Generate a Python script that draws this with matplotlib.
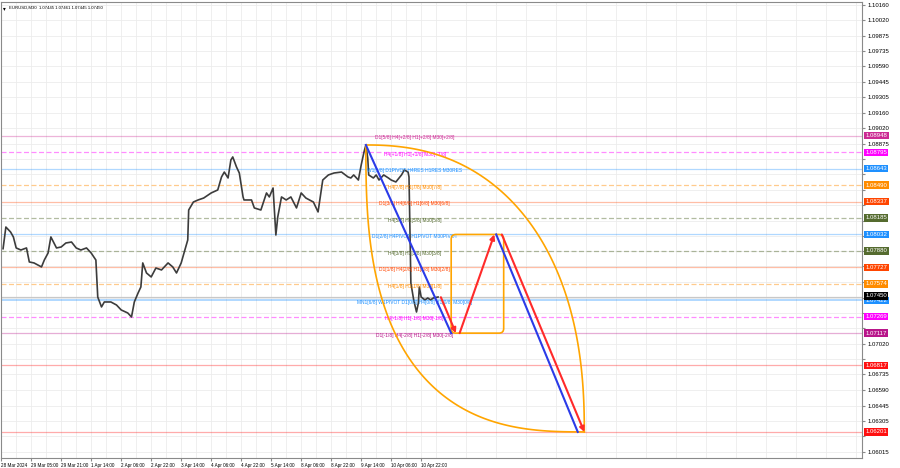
import matplotlib
matplotlib.use("Agg")
import matplotlib.pyplot as plt
import numpy as np
from matplotlib import transforms
from matplotlib.patches import FancyBboxPatch

plt.rcParams['font.family'] = ['Liberation Sans', 'DejaVu Sans']

chart_title = "EURUSD,M30  1.07445 1.07461 1.07445 1.07450"

# M30 bar index (weekend gaps removed) and close price
bar_idx = [0, 3, 8, 11, 14, 19, 25, 28, 33, 41, 44, 48, 51, 57, 62, 67, 73, 78, 83, 89,
           94, 99, 101, 105, 108, 115, 121, 126, 133, 137, 140, 144, 147, 149, 153, 158,
           163, 169, 176, 181, 185, 190, 193, 197, 198, 203, 208, 214, 222, 229, 233, 236,
           240, 243, 245, 249, 252, 256, 257, 265, 268, 275, 281, 284, 288, 291, 293, 297,
           302, 307, 313, 318, 323, 331, 336, 341, 347, 353, 361, 368, 371, 374, 379, 382,
           385, 387, 389, 390, 395, 398, 401, 406, 411, 414, 419, 425, 428, 432, 433, 434,
           435, 438, 441, 443, 444, 446, 450, 453, 456, 459, 464]
close = [1.07900, 1.08101, 1.08055, 1.08009, 1.07907, 1.07888, 1.07907, 1.07777, 1.07768,
         1.07731, 1.07795, 1.07860, 1.08009, 1.07907, 1.07916, 1.07953, 1.07962, 1.07907,
         1.07888, 1.07907, 1.07860, 1.07795, 1.07452, 1.07360, 1.07406, 1.07406, 1.07378,
         1.07332, 1.07304, 1.07267, 1.07406, 1.07489, 1.07545, 1.07768, 1.07675, 1.07638,
         1.07721, 1.07703, 1.07768, 1.07731, 1.07675, 1.07768, 1.07860, 1.07981, 1.08259,
         1.08333, 1.08352, 1.08370, 1.08417, 1.08445, 1.08565, 1.08611, 1.08556, 1.08723,
         1.08751, 1.08658, 1.08602, 1.08380, 1.08352, 1.08352, 1.08278, 1.08259, 1.08417,
         1.08380, 1.08463, 1.08027, 1.08194, 1.08380, 1.08352, 1.08380, 1.08278, 1.08417,
         1.08370, 1.08333, 1.08241, 1.08537, 1.08584, 1.08602, 1.08611, 1.08565, 1.08556,
         1.08584, 1.08537, 1.08676, 1.08797, 1.08862, 1.08741, 1.08584, 1.08556, 1.08584,
         1.08537, 1.08584, 1.08556, 1.08537, 1.08519, 1.08584, 1.08630, 1.08611, 1.08565,
         1.08074, 1.07582, 1.07425, 1.07313, 1.07397, 1.07545, 1.07452, 1.07425, 1.07443,
         1.07425, 1.07443, 1.07452]

time_tick_bars = [-2, 30, 62, 94, 126, 158, 190, 222, 254, 286, 318, 350, 382, 414, 446]
time_labels = ["28 Mar 2024", "29 Mar 05:00", "29 Mar 21:00", "1 Apr 14:00", "2 Apr 06:00",
               "2 Apr 22:00", "3 Apr 14:00", "4 Apr 06:00", "4 Apr 22:00", "5 Apr 14:00",
               "8 Apr 06:00", "8 Apr 22:00", "9 Apr 14:00", "10 Apr 06:00", "10 Apr 22:00"]

price_ticks = [1.10160, 1.10020, 1.09875, 1.09735, 1.09590, 1.09445, 1.09305, 1.09160,
               1.09020, 1.08875, 1.08735, 1.08590, 1.08445, 1.08305, 1.08160, 1.08020,
               1.07875, 1.07735, 1.07590, 1.07445, 1.07305, 1.07160, 1.07020, 1.06875,
               1.06735, 1.06590, 1.06445, 1.06305, 1.06160, 1.06015]

# murrey levels: price, caption, colour, dashed?
level_prices = [1.08948, 1.08795, 1.08643, 1.08490, 1.08337, 1.08185, 1.08032, 1.07880,
                1.07727, 1.07574, 1.07422, 1.07269, 1.07117, 1.06817, 1.06201]
level_texts = ["D1[5/8] H4[+2/8] H1[+2/8] M30[+2/8]",
               "H4[+1/8] H1[+1/8] M30[+1/8]",
               "W1[5/8] D1PIVOT H4RES H1RES M30RES",
               "H4[7/8] H1[7/8] M30[7/8]",
               "D1[3/8] H4[6/8] H1[6/8] M30[6/8]",
               "H4[5/8] H1[5/8] M30[5/8]",
               "D1[2/8] H4PIVOT H1PIVOT M30PIVOT",
               "H4[3/8] H1[3/8] M30[3/8]",
               "D1[1/8] H4[2/8] H1[2/8] M30[2/8]",
               "H4[1/8] H1[1/8] M30[1/8]",
               "MN1[6/8] W1PIVOT D1[0/8] H4[0/8] H1[0/8] M30[0/8]",
               "H4[-1/8] H1[-1/8] M30[-1/8]",
               "D1[-1/8] H4[-2/8] H1[-2/8] M30[-2/8]",
               "", ""]
level_colors = ["#CC2A93", "#FF00FF", "#1E90FF", "#FF8C00", "#FF4500", "#556B2F",
                "#1E90FF", "#556B2F", "#FF4500", "#FF8C00", "#1E90FF", "#FF00FF",
                "#B8168A", "#FF1010", "#FF1010"]
level_dashed = [False, True, False, True, False, True, False, True, False, True,
                False, True, False, False, False]

bid_price = 1.07450

# projection drawn on the chart (bar, price)
swing_top = (387, 1.08862)
swing_target = (620, 1.06201)
blue_legs = [[(387, 1.08862), (478, 1.07117)], [(526, 1.08032), (613, 1.06201)]]
red_legs = [[(467, 1.07450), (483, 1.07117)], [(487, 1.07117), (524, 1.08032)],
            [(532, 1.08032), (620, 1.06201)]]
box_bars = (478, 534)
box_prices = (1.07117, 1.08032)

label_center_bar = 439

fig = plt.figure(figsize=(9, 4.68), dpi=100)
ax = fig.add_axes([1 / 900, 10 / 468, 861 / 900, 456 / 468])
ax.set_xlim(-2.2, 916.2)
ax.set_ylim(1.05959, 1.10188)

for s in ax.spines.values():
    s.set_color("#8a8a8a")
    s.set_linewidth(0.8)

ax.set_xticks(time_tick_bars)
ax.set_xticklabels(time_labels, ha="left", fontsize=3.3)
ax.set_xticks(range(14, 917, 32), minor=True)
ax.tick_params(axis="x", which="major", length=2, pad=1.5, color="#8a8a8a")
ax.tick_params(axis="x", which="minor", length=0)

# price scale labels hidden under the coloured level tags, like the terminal does
shown_ticks = [p for p in price_ticks
               if min(abs(p - q) for q in level_prices + [bid_price]) > 0.00061]
ax.yaxis.tick_right()
ax.set_yticks(price_ticks)
ax.set_yticklabels([f"{p:.5f}" if p in shown_ticks else "" for p in price_ticks],
                   fontsize=4.3)
ax.tick_params(axis="y", length=2, pad=2, color="#8a8a8a")
ax.grid(axis="y", which="major", color="#ececec", lw=0.6)
ax.grid(axis="x", which="both", color="#ececec", lw=0.6)
ax.set_axisbelow(True)

# levels
blend = transforms.blended_transform_factory(ax.transAxes, ax.transData)
for p, txt, c, dashed in zip(level_prices, level_texts, level_colors, level_dashed):
    lw = 1.4 if p == 1.07422 else 0.9
    ax.axhline(p, color=c, lw=lw, alpha=0.35 if not dashed else 0.45,
               ls=(0, (4, 2)) if dashed else "-", zorder=1)
    if txt:
        ax.annotate(txt, (label_center_bar, p), xytext=(0, -1.6), textcoords="offset points",
                    ha="center", va="center", fontsize=3.5, color=c, zorder=4)
    ax.text(1.004, p, f"{p:.5f}", transform=blend, ha="left", va="center", fontsize=4.3,
            color="white", clip_on=False, zorder=10,
            bbox=dict(boxstyle="square,pad=0.2", fc=c, ec="none"))

ax.axhline(bid_price, color="#c8c8c8", lw=0.9, zorder=1)
ax.text(1.004, bid_price + 0.00012, f"{bid_price:.5f}", transform=blend, ha="left",
        va="center", fontsize=4.3, color="white", clip_on=False, zorder=11,
        bbox=dict(boxstyle="square,pad=0.2", fc="black", ec="none"))

# price
ax.plot(bar_idx, close, color="#3c3c3c", lw=1.2, zorder=3)

# the two arcs between swing top and target (squarish quarter curves)
w = swing_target[0] - swing_top[0]
h = swing_top[1] - swing_target[1]
t = np.linspace(0, np.pi / 2, 120)
right_pow, left_pow = 2.3, 2.7
ax.plot(swing_top[0] + w * np.cos(t) ** (2 / right_pow),
        swing_target[1] + h * np.sin(t) ** (2 / right_pow),
        color="#FFA500", lw=1.2, zorder=5)
ax.plot(swing_target[0] - w * np.cos(t) ** (2 / left_pow),
        swing_top[1] - h * np.sin(t) ** (2 / left_pow),
        color="#FFA500", lw=1.2, zorder=5)

# orange box
ax.add_patch(FancyBboxPatch((box_bars[0], box_prices[0]), box_bars[1] - box_bars[0],
                            box_prices[1] - box_prices[0],
                            boxstyle="round,pad=0,rounding_size=5", mutation_aspect=8.7e-5,
                            fc="none", ec="#FFA500", lw=1.2, zorder=5))

for leg in blue_legs:
    ax.plot([leg[0][0], leg[1][0]], [leg[0][1], leg[1][1]], color="#2B3BE8", lw=1.5, zorder=6)
for leg in red_legs:
    ax.annotate("", xy=leg[1], xytext=leg[0],
                arrowprops=dict(arrowstyle="-|>", color="#FF2A2A", lw=1.5,
                                mutation_scale=7, shrinkA=0, shrinkB=0), zorder=7)

ax.text(0.002, 0.992, "\u25BE", transform=ax.transAxes, ha="left", va="top", fontsize=4)
ax.text(0.009, 0.992, chart_title, transform=ax.transAxes, ha="left", va="top", fontsize=3.1)

fig.savefig("out.png", dpi=100)
